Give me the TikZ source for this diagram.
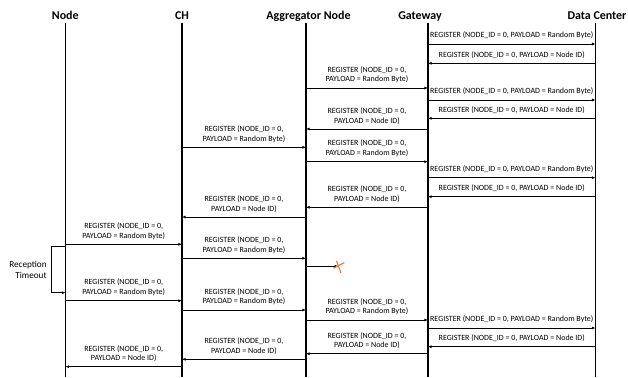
\documentclass[tikz,border=0pt]{standalone}
\usepackage{fontspec}
\setmainfont{Carlito}
\usetikzlibrary{arrows.meta,calc}
\begin{document}
\begin{tikzpicture}[x=1bp,y=-1bp,
  lifeline/.style={line width=1.5bp,black},
  header/.style={font=\bfseries\fontsize{12}{14}\selectfont,anchor=base,inner sep=0},
  msg/.style={line width=0.8bp,-{Latex[length=3.6bp,width=3bp]}},
  lbl/.style={above=4.4bp,inner sep=0,align=center,font=\fontsize{8}{9.7}\selectfont},
  note/.style={font=\fontsize{9.2}{11}\selectfont,align=right,inner sep=0},
  lost/.style={line width=1.1bp,draw={rgb,255:red,222;green,124;blue,58}}]
\useasboundingbox (0,0) rectangle (628,377);

% lifeline tops
\coordinate (nd) at (65.5,23);
\coordinate (ch) at (182,23);
\coordinate (ag) at (306,23);
\coordinate (gw) at (428,23);
\coordinate (dc) at (595.5,23);

% headers
\node[header] (hnd) at (65.3,19) {Node};
\node[header] (hch) at (182,19) {CH};
\node[header] (hag) at (308.5,19) {Aggregator Node};
\node[header] (hgw) at (420,19) {Gateway};
\node[header] (hdc) at (597,19) {Data Center};

% lifelines
\foreach \p in {nd,ch,ag,gw,dc}
  \draw[lifeline] (\p) -- (\p |- 0,377);

% messages: from / to / height / text
\foreach \a/\b/\y/\t [count=\i] in {
  gw/dc/44/{REGISTER (NODE\_ID = 0, PAYLOAD = Random Byte)},
  dc/gw/63.3/{REGISTER (NODE\_ID = 0, PAYLOAD = Node ID)},
  ag/gw/88/{REGISTER (NODE\_ID = 0,\\PAYLOAD = Random Byte)},
  gw/dc/100/{REGISTER (NODE\_ID = 0, PAYLOAD = Random Byte)},
  dc/gw/118.3/{REGISTER (NODE\_ID = 0, PAYLOAD = Node ID)},
  gw/ag/129/{REGISTER (NODE\_ID = 0,\\PAYLOAD = Node ID)},
  ch/ag/147.3/{REGISTER (NODE\_ID = 0,\\PAYLOAD = Random Byte)},
  ag/gw/161.7/{REGISTER (NODE\_ID = 0,\\PAYLOAD = Random Byte)},
  gw/dc/177.7/{REGISTER (NODE\_ID = 0, PAYLOAD = Random Byte)},
  dc/gw/196.7/{REGISTER (NODE\_ID = 0, PAYLOAD = Node ID)},
  gw/ag/207.3/{REGISTER (NODE\_ID = 0,\\PAYLOAD = Node ID)},
  ag/ch/217/{REGISTER (NODE\_ID = 0,\\PAYLOAD = Node ID)},
  nd/ch/244.3/{REGISTER (NODE\_ID = 0,\\PAYLOAD = Random Byte)},
  ch/ag/258.3/{REGISTER (NODE\_ID = 0,\\PAYLOAD = Random Byte)},
  nd/ch/300.7/{REGISTER (NODE\_ID = 0,\\PAYLOAD = Random Byte)},
  ch/ag/310/{REGISTER (NODE\_ID = 0,\\PAYLOAD = Random Byte)},
  ag/gw/320/{REGISTER (NODE\_ID = 0,\\PAYLOAD = Random Byte)},
  gw/dc/328/{REGISTER (NODE\_ID = 0, PAYLOAD = Random Byte)},
  dc/gw/346.7/{REGISTER (NODE\_ID = 0, PAYLOAD = Node ID)},
  gw/ag/353.7/{REGISTER (NODE\_ID = 0,\\PAYLOAD = Node ID)},
  ag/ch/359.3/{REGISTER (NODE\_ID = 0,\\PAYLOAD = Node ID)},
  ch/nd/366.7/{REGISTER (NODE\_ID = 0,\\PAYLOAD = Node ID)}}
{
  \coordinate (m\i s) at (\a |- 0,\y);
  \coordinate (m\i e) at (\b |- 0,\y);
  \draw[msg] (m\i s) -- node[lbl] (t\i) {\t} (m\i e);
}

% lost message towards the aggregator's neighbour
\coordinate (lost s) at (ag |- 0,266.3);
\coordinate (lost x) at (338.3,266.3);
\draw[msg] (lost s) -- (lost x);
\draw[lost] ($(lost x)+(-5,1.8)$) -- ($(lost x)+(6,-3.6)$);
\draw[lost] ($(lost x)+(-1.8,-5.6)$) -- ($(lost x)+(2.6,6.6)$);

% reception timeout loop on the node
\coordinate (to s) at (nd |- 0,246.7);
\coordinate (to e) at (nd |- 0,292.7);
\draw[msg] (to s) -- (51.7,246.7) -- (51.7,292.7) -- (to e);
\node[note,anchor=east] (tonote) at (46.8,269.5) {Reception\\Timeout};
\end{tikzpicture}
\end{document}
